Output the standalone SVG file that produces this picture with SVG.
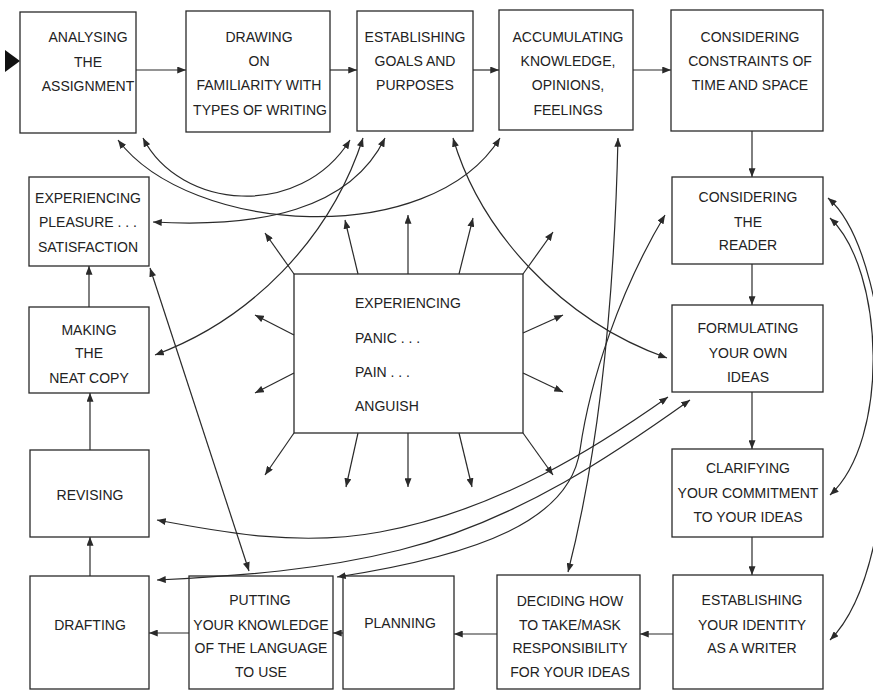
<svg xmlns="http://www.w3.org/2000/svg" width="873" height="693" viewBox="0 0 873 693">
  <style>
    .box { fill: #fff; stroke: #2a2a2a; stroke-width: 1.3; }
    .lbl { font-family: "Liberation Sans", Arial, sans-serif; font-size: 14px; fill: #222; text-anchor: middle; }
    .lft { text-anchor: start; }
    .ln { fill: none; stroke: #2a2a2a; stroke-width: 1.2; }
    .one { marker-end: url(#ah); }
    .two { marker-start: url(#ah); marker-end: url(#ah); }
  </style>
  <defs>
    <marker id="ah" viewBox="0 0 10 8" refX="10" refY="4" markerWidth="9" markerHeight="7" markerUnits="userSpaceOnUse" orient="auto-start-reverse">
      <path d="M0,0 L10,4 L0,8 z" fill="#2a2a2a"/>
    </marker>
  </defs>
  <rect width="873" height="693" fill="#fff"/>

  <!-- entry marker -->
  <path d="M5,50 L20,61 L5,72 z" fill="#111"/>

  <!-- top row -->
  <g id="analysing">
    <rect class="box" x="20" y="12" width="116" height="121"/>
    <text class="lbl" x="88" y="42">ANALYSING</text>
    <text class="lbl" x="88" y="67">THE</text>
    <text class="lbl" x="88" y="91">ASSIGNMENT</text>
  </g>
  <g id="drawing">
    <rect class="box" x="186" y="11" width="144" height="121"/>
    <text class="lbl" x="259" y="42">DRAWING</text>
    <text class="lbl" x="259" y="66">ON</text>
    <text class="lbl" x="259" y="90">FAMILIARITY WITH</text>
    <text class="lbl" x="260" y="115">TYPES OF WRITING</text>
  </g>
  <g id="goals">
    <rect class="box" x="357" y="11" width="116" height="120"/>
    <text class="lbl" x="415" y="42">ESTABLISHING</text>
    <text class="lbl" x="415" y="66">GOALS AND</text>
    <text class="lbl" x="415" y="90">PURPOSES</text>
  </g>
  <g id="accumulating">
    <rect class="box" x="499" y="10" width="134" height="120"/>
    <text class="lbl" x="568" y="42">ACCUMULATING</text>
    <text class="lbl" x="568" y="66">KNOWLEDGE,</text>
    <text class="lbl" x="568" y="90">OPINIONS,</text>
    <text class="lbl" x="568" y="115">FEELINGS</text>
  </g>
  <g id="constraints">
    <rect class="box" x="671" y="10" width="152" height="121"/>
    <text class="lbl" x="750" y="42">CONSIDERING</text>
    <text class="lbl" x="750" y="66">CONSTRAINTS OF</text>
    <text class="lbl" x="750" y="90">TIME AND SPACE</text>
  </g>

  <!-- right column -->
  <g id="reader">
    <rect class="box" x="672" y="177" width="151" height="87"/>
    <text class="lbl" x="748" y="202">CONSIDERING</text>
    <text class="lbl" x="748" y="227">THE</text>
    <text class="lbl" x="748" y="250">READER</text>
  </g>
  <g id="formulating">
    <rect class="box" x="672" y="305" width="151" height="87"/>
    <text class="lbl" x="748" y="333">FORMULATING</text>
    <text class="lbl" x="748" y="358">YOUR OWN</text>
    <text class="lbl" x="748" y="382">IDEAS</text>
  </g>
  <g id="clarifying">
    <rect class="box" x="672" y="449" width="151" height="88"/>
    <text class="lbl" x="748" y="473">CLARIFYING</text>
    <text class="lbl" x="748" y="498">YOUR COMMITMENT</text>
    <text class="lbl" x="748" y="522">TO YOUR IDEAS</text>
  </g>
  <g id="identity">
    <rect class="box" x="673" y="575" width="150" height="114"/>
    <text class="lbl" x="752" y="605">ESTABLISHING</text>
    <text class="lbl" x="752" y="630">YOUR IDENTITY</text>
    <text class="lbl" x="752" y="653">AS A WRITER</text>
  </g>

  <!-- bottom row -->
  <g id="deciding">
    <rect class="box" x="497" y="575" width="143" height="114"/>
    <text class="lbl" x="570" y="606">DECIDING HOW</text>
    <text class="lbl" x="570" y="630">TO TAKE/MASK</text>
    <text class="lbl" x="570" y="653">RESPONSIBILITY</text>
    <text class="lbl" x="570" y="677">FOR YOUR IDEAS</text>
  </g>
  <g id="planning">
    <rect class="box" x="343" y="576" width="111" height="113"/>
    <text class="lbl" x="400" y="628">PLANNING</text>
  </g>
  <g id="putting">
    <rect class="box" x="189" y="576" width="144" height="113"/>
    <text class="lbl" x="260" y="605">PUTTING</text>
    <text class="lbl" x="261" y="630">YOUR KNOWLEDGE</text>
    <text class="lbl" x="261" y="653">OF THE LANGUAGE</text>
    <text class="lbl" x="261" y="677">TO USE</text>
  </g>
  <g id="drafting">
    <rect class="box" x="30" y="576" width="119" height="113"/>
    <text class="lbl" x="90" y="630">DRAFTING</text>
  </g>

  <!-- left column -->
  <g id="revising">
    <rect class="box" x="30" y="450" width="119" height="87"/>
    <text class="lbl" x="90" y="500">REVISING</text>
  </g>
  <g id="neat-copy">
    <rect class="box" x="29" y="307" width="120" height="86"/>
    <text class="lbl" x="89" y="335">MAKING</text>
    <text class="lbl" x="89" y="358">THE</text>
    <text class="lbl" x="89" y="383">NEAT COPY</text>
  </g>
  <g id="pleasure">
    <rect class="box" x="29" y="177" width="120" height="89"/>
    <text class="lbl" x="88" y="203">EXPERIENCING</text>
    <text class="lbl" x="88" y="227">PLEASURE . . .</text>
    <text class="lbl" x="88" y="252">SATISFACTION</text>
  </g>

  <!-- centre -->
  <g id="panic">
    <rect class="box" x="294" y="274" width="229" height="159"/>
    <text class="lbl lft" x="355" y="308">EXPERIENCING</text>
    <text class="lbl lft" x="355" y="343">PANIC . . .</text>
    <text class="lbl lft" x="355" y="377">PAIN . . .</text>
    <text class="lbl lft" x="355" y="411">ANGUISH</text>
  </g>

  <g id="connectors">
    <!-- main sequence -->
    <path class="ln one" d="M136,70 H186"/>
    <path class="ln one" d="M330,70 H357"/>
    <path class="ln one" d="M473,70 H499"/>
    <path class="ln one" d="M633,70 H671"/>
    <path class="ln one" d="M752,131 V177"/>
    <path class="ln one" d="M752,264 V305"/>
    <path class="ln one" d="M752,392 V449"/>
    <path class="ln one" d="M752,537 V575"/>
    <path class="ln one" d="M673,634 H640"/>
    <path class="ln one" d="M497,634 H454"/>
    <path class="ln one" d="M343,633 H333"/>
    <path class="ln one" d="M189,633 H149"/>
    <path class="ln one" d="M90,576 V537"/>
    <path class="ln one" d="M90,450 V393"/>
    <path class="ln one" d="M89,307 V266"/>

    <!-- two-way links -->
    <path class="ln two" d="M143,138 C180,210 300,220 350,140"/>
    <path class="ln two" d="M118,140 C190,235 430,250 500,138"/>
    <path class="ln two" d="M153,222 C260,228 350,210 385,138"/>
    <path class="ln two" d="M155,355 C250,320 330,240 363,138"/>
    <path class="ln two" d="M150,268 L249,571"/>
    <path class="ln two" d="M453,138 C480,230 560,320 667,358"/>
    <path class="ln two" d="M618,138 Q612,400 568,572"/>
    <path class="ln two" d="M665,215 C620,290 590,380 580,450 C570,520 480,555 337,577"/>
    <path class="ln two" d="M668,397 C600,445 500,510 380,532 C300,547 220,532 157,520"/>
    <path class="ln two" d="M690,400 C620,450 520,520 400,550 C320,570 240,576 157,580"/>
    <path class="ln two" d="M830,218 C885,270 890,440 830,495"/>
    <path class="ln two" d="M828,198 C900,260 910,560 830,640"/>

    <!-- radiating from the centre box -->
    <path class="ln one" d="M294,274 L265,233"/>
    <path class="ln one" d="M358,274 L345,220"/>
    <path class="ln one" d="M408,274 L408,215"/>
    <path class="ln one" d="M459,274 L473,218"/>
    <path class="ln one" d="M523,274 L553,232"/>
    <path class="ln one" d="M294,335 L255,315"/>
    <path class="ln one" d="M294,373 L255,393"/>
    <path class="ln one" d="M523,333 L563,315"/>
    <path class="ln one" d="M523,373 L563,392"/>
    <path class="ln one" d="M294,433 L265,475"/>
    <path class="ln one" d="M358,433 L346,487"/>
    <path class="ln one" d="M408,433 L408,487"/>
    <path class="ln one" d="M459,433 L472,487"/>
    <path class="ln one" d="M523,433 L553,475"/>
  </g>
</svg>
